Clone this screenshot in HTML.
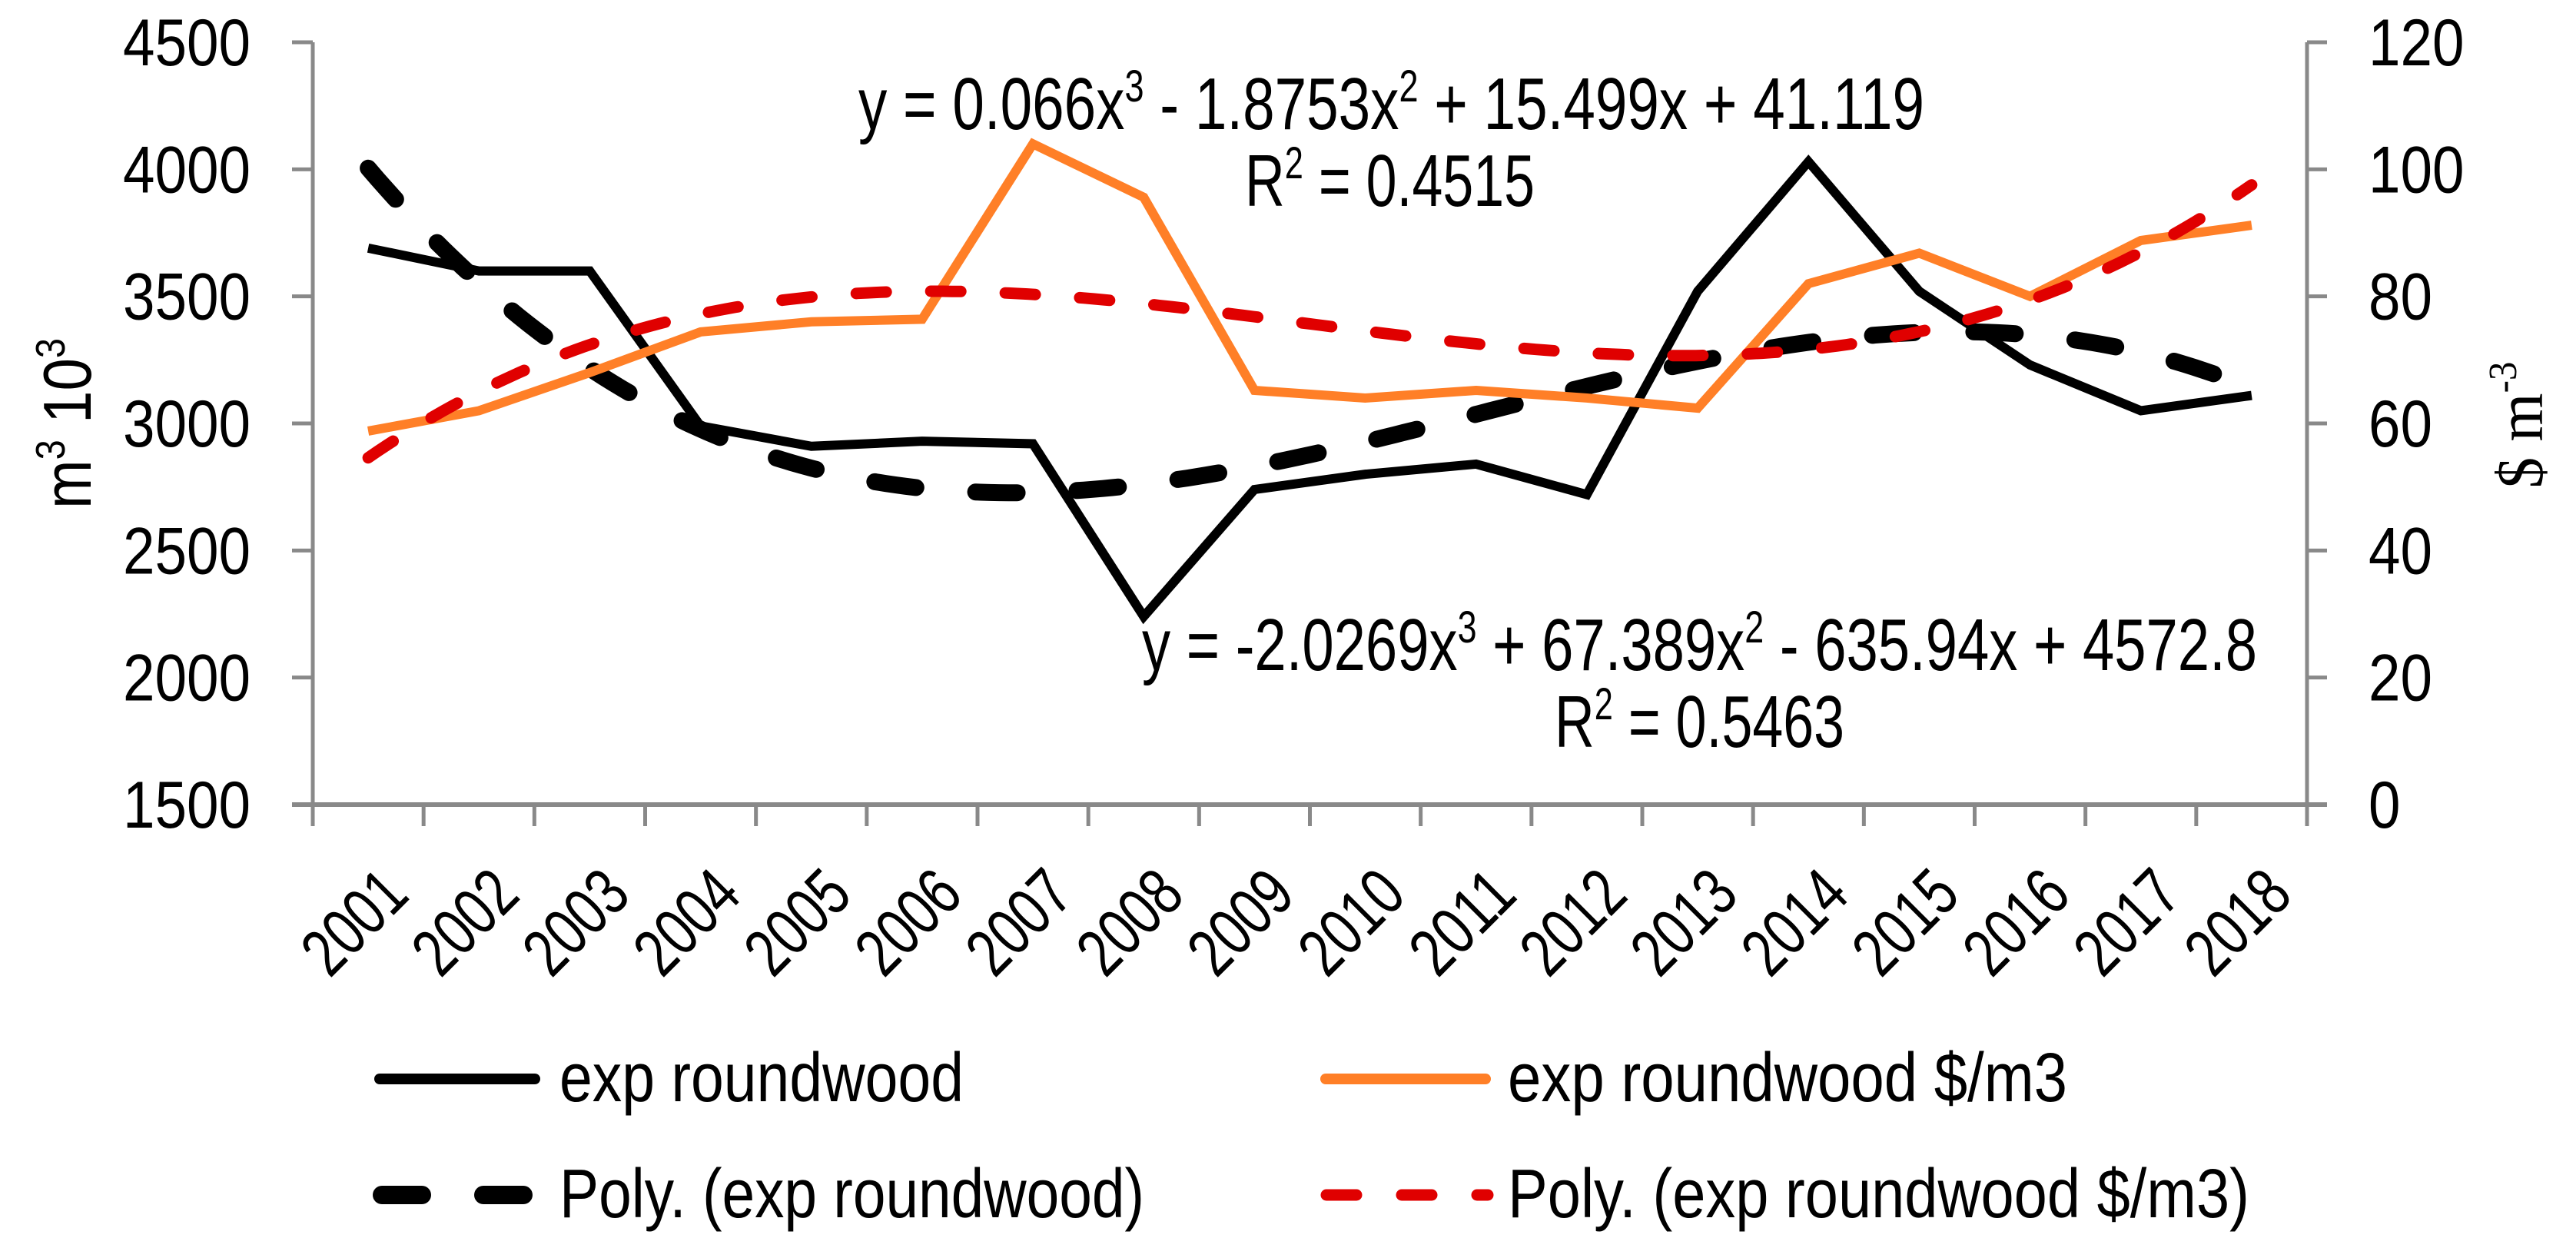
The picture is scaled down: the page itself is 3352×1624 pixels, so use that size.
<!DOCTYPE html>
<html><head><meta charset="utf-8"><style>
html,body{margin:0;padding:0;background:#fff;}
svg{display:block;}
text{font-family:"Liberation Sans",sans-serif;fill:#000;}
</style></head><body>
<svg id="chart" width="3352" height="1624" viewBox="0 0 3352 1624" xmlns="http://www.w3.org/2000/svg">
<g id="axes"></g>
<g id="marks"></g>
<text transform="translate(118,551) rotate(-90)" text-anchor="middle" font-size="88" textLength="222" lengthAdjust="spacingAndGlyphs">m<tspan font-size="54" dy="-34">3</tspan><tspan dy="34"> 10</tspan><tspan font-size="54" dy="-34">3</tspan></text>
<text transform="translate(3308,553) rotate(-90)" text-anchor="middle" font-size="86" textLength="165" lengthAdjust="spacingAndGlyphs" style="font-family:'Liberation Serif',serif">$ m<tspan font-size="52" dy="-34">-3</tspan></text>
<text x="1117" y="168" font-size="96" textLength="1387" lengthAdjust="spacingAndGlyphs">y = 0.066x<tspan font-size="58" dy="-36">3</tspan><tspan dy="36"> - 1.8753x</tspan><tspan font-size="58" dy="-36">2</tspan><tspan dy="36"> + 15.499x + 41.119</tspan></text>
<text x="1620" y="268" font-size="96" textLength="377" lengthAdjust="spacingAndGlyphs">R<tspan font-size="58" dy="-36">2</tspan><tspan dy="36"> = 0.4515</tspan></text>
<text x="1486" y="872" font-size="96" textLength="1451" lengthAdjust="spacingAndGlyphs">y = -2.0269x<tspan font-size="58" dy="-36">3</tspan><tspan dy="36"> + 67.389x</tspan><tspan font-size="58" dy="-36">2</tspan><tspan dy="36"> - 635.94x + 4572.8</tspan></text>
<text x="2023" y="972" font-size="96" textLength="377" lengthAdjust="spacingAndGlyphs">R<tspan font-size="58" dy="-36">2</tspan><tspan dy="36"> = 0.5463</tspan></text>
<g>
 <g>
  <line x1="494" y1="1404" x2="696" y2="1404" stroke="#000" stroke-width="14" stroke-linecap="round"/>
  <text x="728" y="1433" font-size="90" textLength="526" lengthAdjust="spacingAndGlyphs">exp roundwood</text>
 </g>
 <g>
  <line x1="1725" y1="1404" x2="1933" y2="1404" stroke="#FF7F27" stroke-width="14" stroke-linecap="round"/>
  <text x="1962" y="1433" font-size="90" textLength="728" lengthAdjust="spacingAndGlyphs">exp roundwood $/m3</text>
 </g>
 <g>
  <line x1="497" y1="1555" x2="703" y2="1555" stroke="#000" stroke-width="24" stroke-linecap="round" stroke-dasharray="52 80"/>
  <text x="728" y="1584" font-size="90" textLength="761" lengthAdjust="spacingAndGlyphs">Poly. (exp roundwood)</text>
 </g>
 <g>
  <line x1="1726" y1="1555" x2="1936" y2="1555" stroke="#E00000" stroke-width="15" stroke-linecap="round" stroke-dasharray="39 59"/>
  <text x="1962" y="1584" font-size="90" textLength="965" lengthAdjust="spacingAndGlyphs">Poly. (exp roundwood $/m3)</text>
 </g>
</g>
</svg>
<script>
const years = ["2001","2002","2003","2004","2005","2006","2007","2008","2009","2010","2011","2012","2013","2014","2015","2016","2017","2018"];
const volume = [3690,3600,3600,2990,2910,2930,2920,2240,2740,2800,2840,2720,3520,4030,3520,3230,3050,3110];
const price = [58.8,62,68,74.4,76,76.4,104,95.6,65.2,64,65.2,64,62.4,82,86.8,80,88.8,91.2];
const leftTicks = [1500,2000,2500,3000,3500,4000,4500];
const rightTicks = [0,20,40,60,80,100,120];

const NS="http://www.w3.org/2000/svg";
const X0=407,X1=3002,YT=55,YB=1047;
const step=(X1-X0)/years.length;
const xc=i=>X0+step*(i+0.5);
const yL=v=>YB-(v-1500)/3000*(YB-YT);
const yR=v=>YB-v/120*(YB-YT);
function mk(tag,attrs,parent){const e=document.createElementNS(NS,tag);for(const k in attrs)e.setAttribute(k,attrs[k]);parent.appendChild(e);return e;}
const axes=document.getElementById('axes'),marks=document.getElementById('marks');
const G="#898989";
let e;
e=mk('line',{x1:X0,y1:YT,x2:X0,y2:YB,stroke:G,'stroke-width':5},axes);


e=mk('line',{x1:X1,y1:YT,x2:X1,y2:YB,stroke:G,'stroke-width':5},axes);


e=mk('line',{x1:380,y1:YB,x2:3028,y2:YB,stroke:G,'stroke-width':6},axes);


leftTicks.forEach(v=>{
  e=mk('line',{x1:380,y1:yL(v),x2:X0,y2:yL(v),stroke:G,'stroke-width':5},axes);
  
  
  e=mk('text',{x:326,y:yL(v)+30,'text-anchor':'end','font-size':86,textLength:166,lengthAdjust:'spacingAndGlyphs'},axes);
  
  
  e.textContent=v;
});
rightTicks.forEach(v=>{
  e=mk('text',{x:3082,y:yR(v)+30,'text-anchor':'start','font-size':86,textLength:String(v).length*41.5,lengthAdjust:'spacingAndGlyphs'},axes);
  
  
  e.textContent=v;
  e=mk('line',{x1:X1,y1:yR(v),x2:3028,y2:yR(v),stroke:G,'stroke-width':5},axes);
  
  
});
for(let i=0;i<=years.length;i++){
  const x=X0+step*i;
  e=mk('line',{x1:x,y1:YB,x2:x,y2:1075,stroke:G,'stroke-width':5},axes);
  
  
}
years.forEach((y,i)=>{
  const x=xc(i)+56,yy=1168;
  e=mk('text',{x:x,y:yy,'text-anchor':'end','font-size':88,textLength:150,lengthAdjust:'spacingAndGlyphs',transform:`rotate(-45 ${x} ${yy})`},axes);
  
  
  e.textContent=y;
});
function cubicFit(vals){
  const n=4,A=[...Array(n)].map(()=>Array(n+1).fill(0));
  vals.forEach((v,i)=>{const x=i+1;const p=[1,x,x*x,x*x*x];
    for(let r=0;r<n;r++){for(let c=0;c<n;c++)A[r][c]+=p[r]*p[c];A[r][n]+=p[r]*v;}});
  for(let c=0;c<n;c++){let m=c;for(let r=c+1;r<n;r++)if(Math.abs(A[r][c])>Math.abs(A[m][c]))m=r;[A[c],A[m]]=[A[m],A[c]];
    for(let r=0;r<n;r++)if(r!==c){const f=A[r][c]/A[c][c];for(let k=c;k<=n;k++)A[r][k]-=f*A[c][k];}}
  const co=A.map((r,i)=>r[n]/r[i]);
  return x=>co[0]+co[1]*x+co[2]*x*x+co[3]*x*x*x;
}
function curve(f,ys){let d='';const N=200;for(let k=0;k<=N;k++){const t=k/N*(years.length-1);d+=(k?'L':'M')+(X0+step*(t+0.5)).toFixed(1)+','+ys(f(t+1)).toFixed(1);}return d;}
const fv=cubicFit(volume),fp=cubicFit(price);
e=mk('path',{d:curve(fv,yL),fill:'none',stroke:'#000','stroke-width':22,'stroke-linecap':'round','stroke-dasharray':'54 78'},marks);


e=mk('path',{d:volume.map((v,i)=>(i?'L':'M')+xc(i)+','+yL(v)).join(''),fill:'none',stroke:'#000','stroke-width':12,'stroke-linejoin':'miter'},marks);


e=mk('path',{d:price.map((v,i)=>(i?'L':'M')+xc(i)+','+yR(v)).join(''),fill:'none',stroke:'#FF7F27','stroke-width':12,'stroke-linejoin':'miter'},marks);


e=mk('path',{d:curve(fp,yR),fill:'none',stroke:'#E00000','stroke-width':15,'stroke-linecap':'round','stroke-dasharray':'39 58'},marks);


</script>
</body></html>
